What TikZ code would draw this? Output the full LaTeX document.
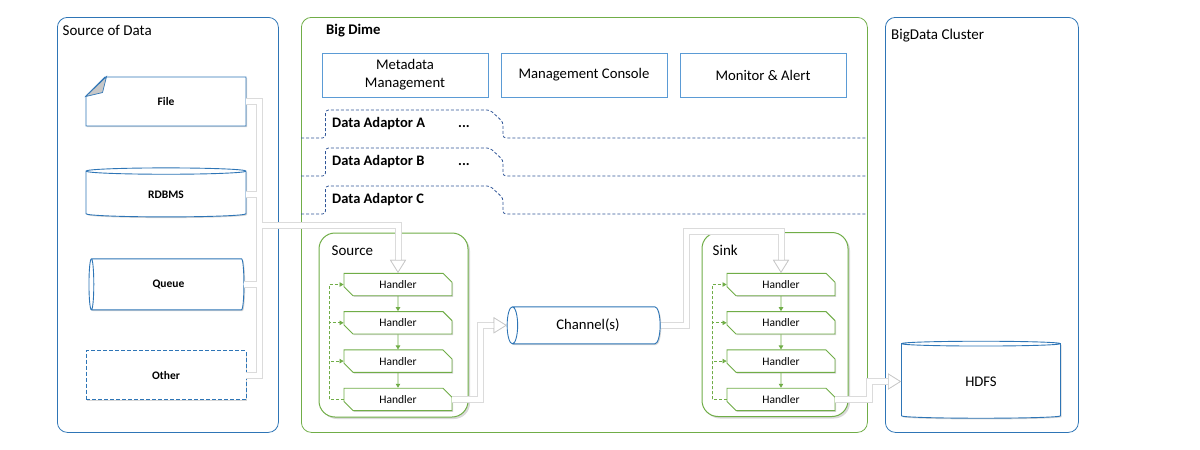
\documentclass[tikz,border=0pt]{standalone}
\usepackage{fontspec}
\setmainfont{Carlito}
\usepackage{tikz}
\usetikzlibrary{arrows.meta,positioning,shapes.geometric,shapes.misc,shadows,calc}
\definecolor{panelblue}{HTML}{2E75B6}
\definecolor{boxblue}{HTML}{5B9BD5}
\definecolor{adaptblue}{HTML}{2F5597}
\definecolor{dimegreen}{HTML}{70AD47}
\tikzset{
  panel/.style={rectangle,rounded corners=10pt,draw=panelblue,line width=0.8pt,anchor=north west,inner sep=0pt},
  paneltitle/.style={anchor=base west,inner sep=0pt,font=\fontsize{15}{17}\selectfont},
  softshadow/.style={drop shadow={shadow xshift=1.2pt,shadow yshift=-1.2pt,opacity=0.35,fill=black!45}},
  srcbox/.style={rectangle,draw=panelblue,line width=0.9pt,fill=white,minimum width=160pt,minimum height=49pt,font=\bfseries\fontsize{11.5}{14}\selectfont,softshadow},
  srccyl/.style={srcbox,cylinder,shape border rotate=90,aspect=0.15},
  infobox/.style={rectangle,draw=boxblue,line width=1pt,fill=white,minimum width=166pt,minimum height=44pt,align=center,font=\fontsize{14.7}{18}\selectfont,softshadow},
  adaptor/.style={draw=adaptblue,line width=0.8pt,dash pattern=on 3pt off 2pt,rounded corners=3pt},
  adaptlabel/.style={anchor=base west,inner sep=0pt,font=\bfseries\fontsize{14.5}{17}\selectfont},
  stage/.style={rectangle,rounded corners=16pt,draw=dimegreen,line width=1pt,fill=white,minimum width=149pt,minimum height=184pt,drop shadow={shadow xshift=2pt,shadow yshift=-2pt,opacity=0.3,fill=black!50}},
  handler/.style={chamfered rectangle,chamfered rectangle corners={north east,south west},chamfered rectangle xsep=5pt,chamfered rectangle ysep=5pt,draw=dimegreen,line width=0.9pt,fill=white,minimum width=108pt,minimum height=22.4pt,inner sep=0pt,font=\fontsize{11.5}{13}\selectfont,softshadow},
  flow/.style={draw=dimegreen,line width=0.8pt,-{Triangle[length=4pt,width=4.5pt]}},
  retry/.style={draw=dimegreen,line width=0.8pt,dash pattern=on 3pt off 2pt},
  store/.style={cylinder,draw=panelblue,line width=0.9pt,fill=white,font=\fontsize{14.7}{17}\selectfont,softshadow},
  pipe/.style={draw=black!14,line width=7pt},
  pipecore/.style={draw=white,line width=5pt},
  pipetip/.style={-{Triangle[length=13pt,width=16pt,fill=white,color=black!22,line width=0.7pt]}}
}
\begin{document}
\begin{tikzpicture}[x=1pt,y=-1pt]
  \useasboundingbox (0,0) rectangle (1200,450);

  \node[panel,minimum width=221pt,minimum height=415pt] (srcpanel) at (57,17) {};
  \node[panel,draw=dimegreen,minimum width=566pt,minimum height=415pt] (dimepanel) at (301,17) {};
  \node[panel,minimum width=193pt,minimum height=415pt] (clusterpanel) at (885,17) {};
  \node[paneltitle] at ($(srcpanel.north west)+(5.5,18)$) {Source of Data};
  \node[paneltitle,font=\bfseries\fontsize{14.7}{17}\selectfont] at ($(dimepanel.north west)+(25,17.5)$) {Big Dime};
  \node[paneltitle] at ($(clusterpanel.north west)+(6,22.5)$) {BigData Cluster};

  \node[infobox] (meta) at (405,75) {Metadata\\Management};
  \node[infobox,right=12pt of meta] (console) {Management Console};
  \node[infobox,right=12pt of console] (monitor) {Monitor \& Alert};

  \foreach \n/\b in {A/138,B/176,C/214}{
    \draw[adaptor] (301,\b) -- (325.5,\b) -- (325.5,\b-28) -- (490,\b-28) -- (503,\b-16) -- (503,\b) -- (867,\b);
    \node[adaptlabel] at (332,\b-10.7) {Data Adaptor \n};
  }
  \foreach \b in {138,176}
    \node[adaptlabel] at (458,\b-10.7) {...};

  \node[stage] (srcstage) at (393.5,325) {};
  \node[stage,minimum width=146pt] (sinkstage) at (775,324.5) {};
  \node[paneltitle] at ($(srcstage.north west)+(13,23)$) {Source};
  \node[paneltitle] at ($(sinkstage.north west)+(11,23)$) {Sink};

  \node[handler] (sh1) at (398,284.5) {Handler};
  \node[handler,below=15pt of sh1] (sh2) {Handler};
  \node[handler,below=15pt of sh2] (sh3) {Handler};
  \node[handler,below=15pt of sh3] (sh4) {Handler};
  \node[handler] (kh1) at (781,284.5) {Handler};
  \node[handler,below=15pt of kh1] (kh2) {Handler};
  \node[handler,below=15pt of kh2] (kh3) {Handler};
  \node[handler,below=15pt of kh3] (kh4) {Handler};

  \foreach \s in {sh,kh}{
    \foreach \i/\j in {1/2,2/3,3/4}
      \draw[flow] (\s\i) -- (\s\j);
    \draw[retry] (\s4.west) -- ++(-14,0) coordinate (\s loop);
    \foreach \i in {1,2,3}
      \draw[retry,-{Triangle[length=4pt,width=4.5pt]}] (\s loop) |- (\s\i.west);
  }

  \node[store,shape border rotate=180,aspect=0.54,minimum height=153pt,minimum width=37pt] (chan) at (588,325.3) {Channel(s)};
  \node[store,shape border rotate=90,aspect=0.126,minimum width=159pt,minimum height=77pt] (hdfs) at (981,381.5) {HDFS};

  \node[srcbox,chamfered rectangle,chamfered rectangle corners=north west,chamfered rectangle xsep=21pt,chamfered rectangle ysep=20pt] (file) at (166,101.5) {File};
  \filldraw[fill=black!22,draw=panelblue,line width=0.7pt] ($(file.south west |- file.north)+(0,20)$) -- ($(file.south west |- file.north)+(21,0)$) -- ($(file.south west |- file.north)+(17,16)$) -- cycle;
  \node[srccyl,below=41pt of file] (rdbms) {RDBMS};
  \node[srccyl,shape border rotate=180,aspect=0.31,minimum height=155pt,minimum width=51pt,below=41pt of rdbms,xshift=2.5pt] (queue) {Queue};
  \node[srcbox,dash pattern=on 4pt off 2pt,below=40pt of queue,xshift=-2.5pt] (other) {Other};

  \coordinate (jn) at (259,225);
  \foreach \layer in {pipe,pipecore}{
    \foreach \src in {file,rdbms,queue,other}
      \draw[\layer] (\src.east) -| (jn);
    \draw[\layer,pipetip] (jn) -| (sh1.north);
    \draw[\layer,pipetip] (sh4.east) -- ++(28,0) |- (chan.west);
    \draw[\layer,pipetip] (chan.east) -- ++(26,0) |- ($(kh1.north)+(0,-41)$) -- (kh1.north);
    \draw[\layer,pipetip] (kh4.east) -- ++(34,0) |- (hdfs.west);
  }
\end{tikzpicture}
\end{document}
